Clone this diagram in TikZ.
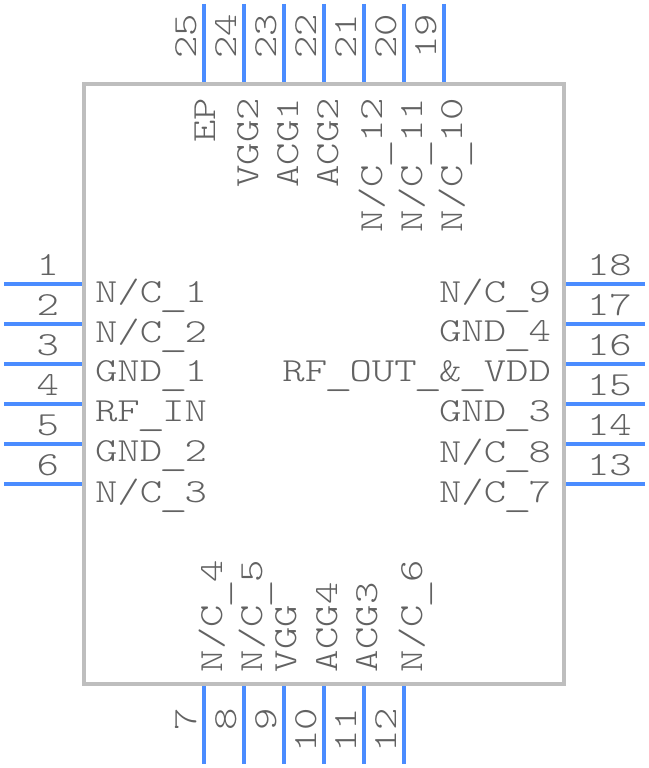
\documentclass[tikz,border=0pt]{standalone}
\usepackage{graphicx}
\definecolor{pinblue}{HTML}{4A8CFF}
\definecolor{bodygray}{HTML}{BEBEBE}
\definecolor{textgray}{HTML}{626262}
\newcommand{\lbl}[1]{\scalebox{1.265}[1]{\fontsize{33.7}{33.7}\fontseries{l}\ttfamily\selectfont #1}}
\newcommand{\usc}{\makebox[0.525em]{\raisebox{-4pt}{\scalebox{1.3}[1]{\_}}}}
\newcommand{\nc}{N{/}C\usc}
\tikzset{
  pinline/.style={draw=pinblue,line width=4pt},
  bodybox/.style={draw=bodygray,line width=4pt},
  txt/.style={text=textgray,inner sep=0pt,outer sep=0pt}
}
\begin{document}
\begin{tikzpicture}[x=1pt,y=-1pt]
\useasboundingbox (0,0) rectangle (648,768);
\draw[bodybox] (84,84) rectangle (564,684);
% left pins
\foreach \n/\y in {1/284,2/324,3/364,4/404,5/444,6/484}{
  \draw[pinline] (4,\y) -- (82,\y);
  \node[txt,anchor=base east] (p\n) at (59,\y-8.5) {\lbl{\n}};
}
% right pins
\foreach \n/\y in {18/284,17/324,16/364,15/404,14/444,13/484}{
  \draw[pinline] (566,\y) -- (645,\y);
  \node[txt,anchor=base west] (p\n) at (587,\y-8.5) {\lbl{\n}};
}
% top pins
\foreach \n/\x in {25/204,24/244,23/284,22/324,21/364,20/404,19/444}{
  \draw[pinline] (\x,4) -- (\x,82);
  \node[txt,rotate=90,anchor=base west] (p\n) at (\x-8,59) {\lbl{\n}};
}
% bottom pins
\foreach \n/\x in {7/204,8/244,9/284,10/324,11/364,12/404}{
  \draw[pinline] (\x,686) -- (\x,764);
  \node[txt,rotate=90,anchor=base east] (p\n) at (\x-8,708) {\lbl{\n}};
}
% left names
\foreach \k/\t/\y in {a/\nc 1/302,b/\nc 2/342,c/GND\usc 1/381,d/RF\usc IN/421,e/GND\usc 2/461,f/\nc 3/502}{
  \node[txt,anchor=base west] (l\k) at (95,\y) {\lbl{\t}};
}
% right names
\foreach \k/\t/\y in {a/\nc 9/302,b/GND\usc 4/341,c/RF\usc OUT\usc\&\usc VDD/381,d/GND\usc 3/421,e/\nc 8/462,f/\nc 7/502}{
  \node[txt,anchor=base east] (r\k) at (551,\y) {\lbl{\t}};
}
% top names
\foreach \k/\t/\x in {a/EP/215,b/VGG2/258,c/ACG1/298,d/ACG2/338,e/\nc 12/382,f/\nc 11/422,g/\nc 10/462}{
  \node[txt,rotate=90,anchor=base east] (t\k) at (\x,98) {\lbl{\t}};
}
% bottom names
\foreach \k/\t/\x in {a/\nc 4/222,b/\nc 5/262,c/VGG/296,d/ACG4/337,e/ACG3/377,f/\nc 6/422}{
  \node[txt,rotate=90,anchor=base west] (b\k) at (\x,672) {\lbl{\t}};
}
\end{tikzpicture}
\end{document}
